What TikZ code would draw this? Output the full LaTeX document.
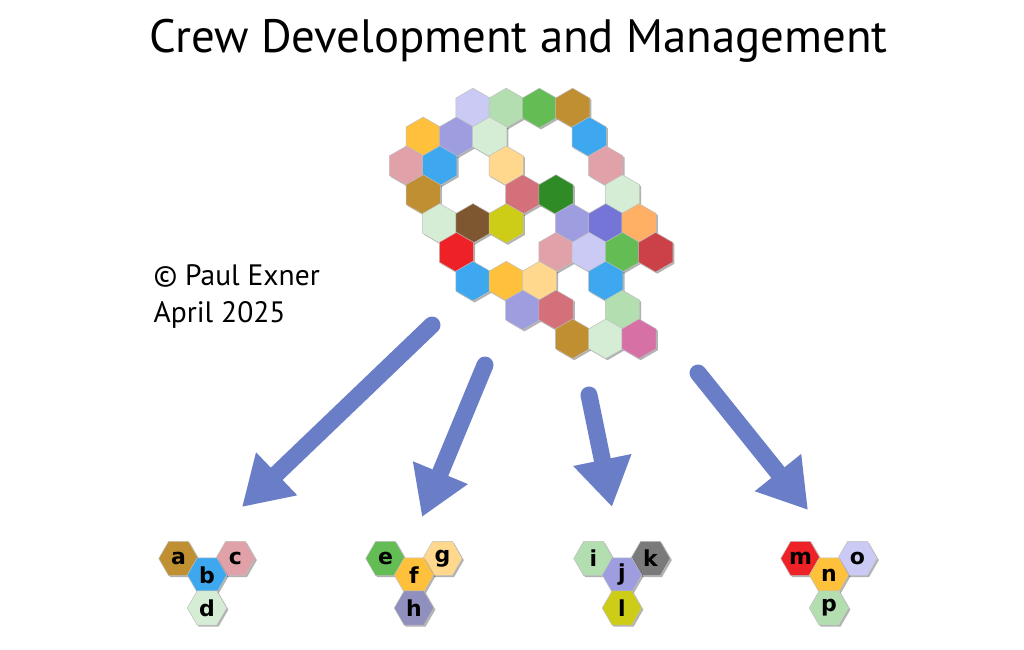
\documentclass[tikz,border=0pt]{standalone}
\usepackage{fontspec}
\setmainfont{PT Sans}
\newfontfamily\letfont{DejaVu Sans}
\usetikzlibrary{shapes.geometric,arrows.meta,shadows}
\definecolor{clav}{HTML}{CACAF5}
\definecolor{clgreen}{HTML}{B3DEB0}
\definecolor{cgreen}{HTML}{64BC55}
\definecolor{cgold}{HTML}{C08F32}
\definecolor{corange}{HTML}{FFC13B}
\definecolor{clavblue}{HTML}{9D9DE0}
\definecolor{cvlgreen}{HTML}{D6EDD5}
\definecolor{cblue}{HTML}{3DA8F0}
\definecolor{cpink}{HTML}{E0A2A8}
\definecolor{clorange}{HTML}{FFD88E}
\definecolor{credpink}{HTML}{D4707A}
\definecolor{cdkgreen}{HTML}{2F8B26}
\definecolor{cbrown}{HTML}{7E5630}
\definecolor{cyellow}{HTML}{CDCC16}
\definecolor{cviolet}{HTML}{7575D8}
\definecolor{corangeb}{HTML}{FFB065}
\definecolor{cred}{HTML}{EE2127}
\definecolor{ccrimson}{HTML}{CC4047}
\definecolor{cmagenta}{HTML}{D670A5}
\definecolor{cgraylav}{HTML}{9090BE}
\definecolor{cgray}{HTML}{7A7A7A}
\definecolor{arrowblue}{RGB}{106,126,200}
\begin{document}
\begin{tikzpicture}[x=1pt,y=-1pt,
  hexp/.style={regular polygon,regular polygon sides=6,shape border rotate=30,
    minimum size=39.6pt,inner sep=0pt,draw=black!25,line width=0.5pt,
    drop shadow={shadow xshift=1.6pt,shadow yshift=-1.6pt,opacity=0.3,fill=black}},
  hexf/.style={regular polygon,regular polygon sides=6,
    minimum size=39.5pt,inner sep=0pt,draw=black!25,line width=0.5pt,
    font=\letfont\bfseries\fontsize{22}{22}\selectfont,text=black,
    drop shadow={shadow xshift=1.6pt,shadow yshift=-1.6pt,opacity=0.3,fill=black}},
  bigarrow/.style={line width=17pt,draw=arrowblue,line cap=round,
    -{Triangle[length=48pt,width=56pt]}}
]
\fill[white] (0,0) rectangle (1024,649);
\useasboundingbox (0,0) rectangle (1024,649);

\node[anchor=base,font=\fontsize{46.8}{46.8}\selectfont] (title) at (518.5,52) {Crew Development and Management};
\node[anchor=base west,font=\fontsize{29.5}{29.5}\selectfont] (cred1) at (150,285) {© Paul Exner};
\node[anchor=base west,font=\fontsize{29.5}{29.5}\selectfont] (cred2) at (150,322) {April 2025};

\foreach \r/\c/\col [count=\i] in {
  0/0/clav, 0/1/clgreen, 0/2/cgreen, 0/3/cgold,
  1/-2/corange, 1/-1/clavblue, 1/0/cvlgreen, 1/3/cblue,
  2/-2/cpink, 2/-1/cblue, 2/1/clorange, 2/4/cpink,
  3/-2/cgold, 3/1/credpink, 3/2/cdkgreen, 3/4/cvlgreen,
  4/-1/cvlgreen, 4/0/cbrown, 4/1/cyellow, 4/3/clavblue, 4/4/cviolet, 4/5/corangeb,
  5/-1/cred, 5/2/cpink, 5/3/clav, 5/4/cgreen, 5/5/ccrimson,
  6/0/cblue, 6/1/corange, 6/2/clorange, 6/4/cblue,
  7/1/clavblue, 7/2/credpink, 7/4/clgreen,
  8/3/cgold, 8/4/cvlgreen, 8/5/cmagenta} {
  \pgfmathsetmacro\hx{473+33.2*\c+16.6*mod(\r,2)}
  \pgfmathsetmacro\hy{108+28.85*\r}
  \node[hexp,fill=\col] (h\i) at (\hx,\hy) {};
}

% small groups
\node[hexf,fill=cgold] (a) at (178.5,558.5) {a};
\node[hexf,fill=cpink] (c) at (235.5,558.5) {c};
\node[hexf,fill=cblue] (b) at (207,575) {b};
\node[hexf,fill=cvlgreen] (d) at (207,608) {d};

\node[hexf,fill=cgreen] (e) at (385.5,558.5) {e};
\node[hexf,fill=clorange] (g) at (442.5,558.5) {g};
\node[hexf,fill=corange] (f) at (414,575) {f};
\node[hexf,fill=cgraylav] (h) at (414,608) {h};

\node[hexf,fill=clgreen] (i) at (593.5,558.5) {i};
\node[hexf,fill=cgray] (k) at (650.5,558.5) {k};
\node[hexf,fill=clavblue] (j) at (622,575) {j};
\node[hexf,fill=cyellow] (l) at (622,608) {l};

\node[hexf,fill=cred] (m) at (800.5,558.5) {m};
\node[hexf,fill=clav] (o) at (857.5,558.5) {o};
\node[hexf,fill=corange] (n) at (829,575) {n};
\node[hexf,fill=clgreen] (p) at (829,608) {p};

% arrows
\coordinate (s1) at (432,325); \coordinate (t1) at (242,507);
\coordinate (s2) at (485,365); \coordinate (t2) at (422,517);
\coordinate (s3) at (589,395); \coordinate (t3) at (612,507);
\coordinate (s4) at (698,373); \coordinate (t4) at (808,510);
\draw[bigarrow] (s1) -- (t1);
\draw[bigarrow] (s2) -- (t2);
\draw[bigarrow] (s3) -- (t3);
\draw[bigarrow] (s4) -- (t4);
\end{tikzpicture}
\end{document}
